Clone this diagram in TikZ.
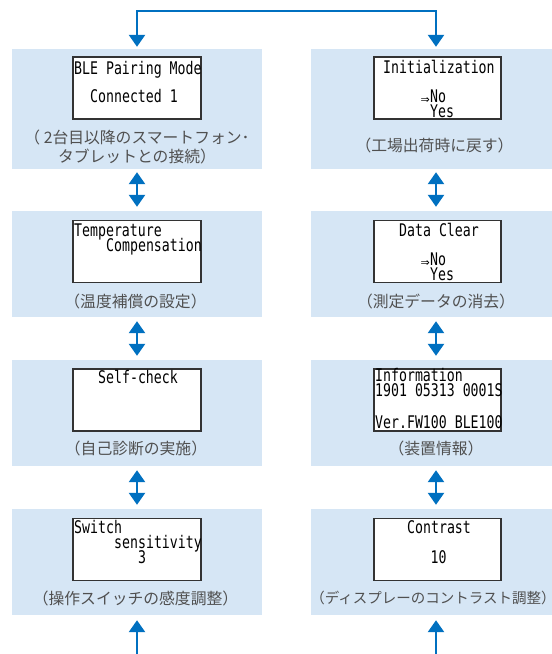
\documentclass[tikz,border=0pt]{standalone}
\usepackage{fontspec}
\usetikzlibrary{arrows.meta}
\newfontfamily\lcd[FakeStretch=0.76]{DejaVu Sans Mono}
\newfontfamily\jp{Noto Sans CJK JP}
\newfontfamily\symf{DejaVu Sans}
\definecolor{arrowblue}{HTML}{0070C0}
\definecolor{panelblue}{HTML}{D6E6F5}
\definecolor{capgray}{HTML}{505050}
\definecolor{boxline}{HTML}{333333}
\begin{document}
\begin{tikzpicture}[x=1pt,y=-1pt,
  panel/.style={fill=panelblue, draw=none, minimum width=250pt, inner sep=0pt},
  lcdbox/.style={fill=white, draw=boxline, line width=1.1pt, minimum height=62pt, inner sep=0pt},
  lcdtext/.style={inner sep=0pt, anchor=base west, font=\lcd\fontsize{17.4}{17.4}\selectfont},
  sel/.style={inner sep=0pt, anchor=base east, font=\symf\fontsize{11}{11}\selectfont},
  caption/.style={inner sep=0pt, text=capgray, font=\jp\fontsize{15.8}{19.5}\selectfont, align=center},
  conn/.style={draw=arrowblue, line width=2.6pt, arrows={-Triangle[width=16pt,length=12pt]}},
  dconn/.style={draw=arrowblue, line width=2.6pt, arrows={Triangle[width=16pt,length=12pt]-Triangle[width=16pt,length=12pt]}}
]
\clip (0,0) rectangle (552,654);
\useasboundingbox (0,0) rectangle (552,654);

% panels
\node[panel, minimum height=120pt] (L1) at (137,109) {};
\node[panel, minimum height=106pt] (L2) at (137,264) {};
\node[panel, minimum height=106pt] (L3) at (137,413) {};
\node[panel, minimum height=106pt] (L4) at (137,562) {};
\node[panel, minimum height=120pt] (R1) at (436,109) {};
\node[panel, minimum height=106pt] (R2) at (436,264) {};
\node[panel, minimum height=106pt] (R3) at (436,413) {};
\node[panel, minimum height=106pt] (R4) at (436,562) {};

% lcd boxes
\node[lcdbox, minimum width=128pt] (LB1) at (137,88) {};
\node[lcdbox, minimum width=128pt] (LB2) at (137,251.5) {};
\node[lcdbox, minimum width=128pt] (LB3) at (137,400) {};
\node[lcdbox, minimum width=128pt] (LB4) at (137,549.5) {};
\node[lcdbox, minimum width=127pt] (RB1) at (437.5,88) {};
\node[lcdbox, minimum width=127pt] (RB2) at (437.5,251.5) {};
\node[lcdbox, minimum width=127pt] (RB3) at (437.5,400) {};
\node[lcdbox, minimum width=127pt] (RB4) at (437.5,549.5) {};

% lcd texts left
\node[lcdtext] (t11) at (74,74) {BLE Pairing Mode};
\node[lcdtext] (t12) at (90,102) {Connected 1};
\node[lcdtext] (t21) at (74,236) {Temperature};
\node[lcdtext] (t22) at (106,251) {Compensation};
\node[lcdtext] (t31) at (98,383) {Self-check};
\node[lcdtext] (t41) at (74,533) {Switch};
\node[lcdtext] (t42) at (114,548) {sensitivity};
\node[lcdtext] (t43) at (138,563) {3};

% lcd texts right
\node[lcdtext] (s11) at (383,73) {Initialization};
\node[lcdtext] (s12) at (430,102) {No};
\node[sel] (a12) at ([yshift=-1pt]s12.base west) {⇒};
\node[lcdtext] (s13) at (430,117) {Yes};
\node[lcdtext] (s21) at (399,236) {Data Clear};
\node[lcdtext] (s22) at (430,265) {No};
\node[sel] (a22) at ([yshift=-1pt]s22.base west) {⇒};
\node[lcdtext] (s23) at (430,280) {Yes};
\node[lcdtext] (s31) at (375,381) {Information};
\node[lcdtext] (s32) at (375,396) {1901 05313 0001S};
\node[lcdtext] (s33) at (375,428) {Ver.FW100 BLE100};
\node[lcdtext] (s41) at (407,533) {Contrast};
\node[lcdtext] (s42) at (430.5,563) {10};

% captions
\node[caption] (c1) at (137,147) {（ 2台目以降のスマートフォン･\\タブレットとの接続）};
\node[caption] (c2) at (135.5,301) {（温度補償の設定）};
\node[caption] (c3) at (136,448) {（自己診断の実施）};
\node[caption] (c4) at (135.5,598) {（操作スイッチの感度調整）};
\node[caption] (d1) at (434.5,145) {（工場出荷時に戻す）};
\node[caption] (d2) at (436,301) {（測定データの消去）};
\node[caption] (d3) at (436,448) {（装置情報）};
\node[caption, font=\jp\fontsize{14.5}{19}\selectfont] (d4) at (433,598) {（ディスプレーのコントラスト調整）};

% connectors
\coordinate (tl) at (137,11);
\coordinate (tr) at (436,11);
\coordinate (bl) at (137,654);
\coordinate (br) at (436,654);
\draw[dconn, shorten <=2pt, shorten >=2pt] (L1.north) -- (tl) -- (tr) -- (R1.north);
\draw[dconn, shorten <=3pt, shorten >=4pt] (L1.south) -- (L2.north);
\draw[dconn, shorten <=4pt, shorten >=4pt] (L2.south) -- (L3.north);
\draw[dconn, shorten <=4pt, shorten >=4pt] (L3.south) -- (L4.north);
\draw[dconn, shorten <=3pt, shorten >=4pt] (R1.south) -- (R2.north);
\draw[dconn, shorten <=4pt, shorten >=4pt] (R2.south) -- (R3.north);
\draw[dconn, shorten <=4pt, shorten >=4pt] (R3.south) -- (R4.north);
\draw[conn, shorten >=5pt] (bl) -- (L4.south);
\draw[conn, shorten >=5pt] (br) -- (R4.south);
\end{tikzpicture}
\end{document}
